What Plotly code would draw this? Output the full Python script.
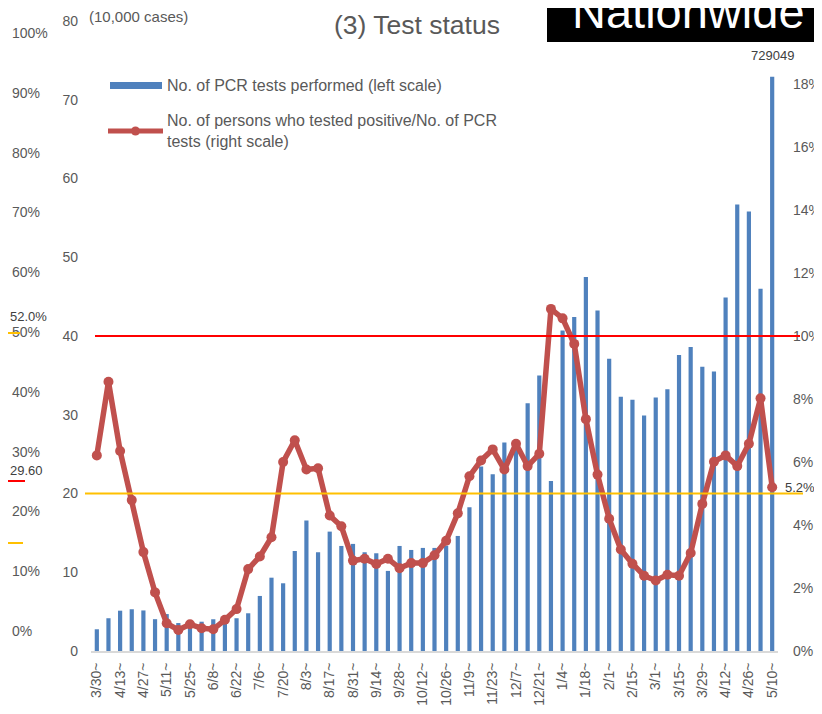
import plotly.graph_objects as go

# the page body has an 8px margin, so the figure is drawn 8px smaller on each axis
OFF = 8
W, H = 822 - OFF, 714 - 2 * OFF

weeks = ["3/30~", "4/6~", "4/13~", "4/20~", "4/27~", "5/4~", "5/11~", "5/18~", "5/25~", "6/1~",
         "6/8~", "6/15~", "6/22~", "6/29~", "7/6~", "7/13~", "7/20~", "7/27~", "8/3~", "8/10~",
         "8/17~", "8/24~", "8/31~", "9/7~", "9/14~", "9/21~", "9/28~", "10/5~", "10/12~", "10/19~",
         "10/26~", "11/2~", "11/9~", "11/16~", "11/23~", "11/30~", "12/7~", "12/14~", "12/21~", "12/28~",
         "1/4~", "1/11~", "1/18~", "1/25~", "2/1~", "2/8~", "2/15~", "2/22~", "3/1~", "3/8~",
         "3/15~", "3/22~", "3/29~", "4/5~", "4/12~", "4/19~", "4/26~", "5/3~", "5/10~"]

# PCR tests per week, in 10,000 cases (left scale)
pcr_tests = [2.76, 4.16, 5.12, 5.30, 5.15, 4.04, 4.69, 3.55, 3.72, 3.72,
             4.03, 4.10, 4.16, 4.79, 6.99, 9.31, 8.60, 12.70, 16.56, 12.54,
             15.16, 13.34, 13.60, 12.54, 12.41, 10.17, 13.34, 12.83, 13.09, 13.09,
             13.38, 14.61, 18.26, 23.42, 22.45, 26.47, 26.00, 31.47, 34.98, 21.60,
             40.70, 42.40, 47.48, 43.24, 37.10, 32.30, 31.90, 29.90, 32.19, 33.25,
             37.60, 38.60, 36.10, 35.50, 44.90, 56.70, 55.80, 46.00, 72.9049]

# positives / PCR tests, % (right scale)
positivity = [6.21, 8.55, 6.35, 4.79, 3.14, 1.86, 0.88, 0.67, 0.85, 0.72,
              0.69, 0.99, 1.33, 2.60, 3.00, 3.61, 6.00, 6.69, 5.76, 5.80,
              4.30, 3.96, 2.87, 2.93, 2.76, 2.93, 2.63, 2.79, 2.79, 3.04,
              3.50, 4.37, 5.55, 6.05, 6.40, 5.76, 6.58, 5.87, 6.26, 10.86,
              10.56, 9.75, 7.36, 5.60, 4.20, 3.22, 2.77, 2.39, 2.24, 2.42,
              2.39, 3.11, 4.67, 6.01, 6.21, 5.87, 6.58, 8.02, 5.20]
positivity = [v / 100 for v in positivity]

left_ticks = [0, 10, 20, 30, 40, 50, 60, 70, 80]
right_ticks = [0, 0.02, 0.04, 0.06, 0.08, 0.10, 0.12, 0.14, 0.16, 0.18]
far_left_ticks = [0, 0.1, 0.2, 0.3, 0.4, 0.5, 0.6, 0.7, 0.8, 0.9, 1.0]


def px(x):
    # screen pixel -> paper fraction
    return (x - OFF) / W


def py(y):
    return 1 - (y - OFF) / H


GRAY = "#595959"
DARK = "#404040"
FONT = "Liberation Sans"
BLUE = "#4F81BD"
RED = "#C0504D"

fig = go.Figure()
fig.add_trace(go.Bar(x=weeks, y=pcr_tests, marker_color=BLUE, marker_line_width=0,
                     name="No. of PCR tests performed (left scale)"))
fig.add_trace(go.Scatter(x=weeks, y=positivity, yaxis="y2", mode="lines+markers",
                         line=dict(color=RED, width=5.5), marker=dict(color=RED, size=10),
                         name="No. of persons who tested positive/No. of PCR tests (right scale)"))
# carrier for the stray percentage axis on the far left
fig.add_trace(go.Scatter(x=[weeks[0]], y=[0], yaxis="y3", mode="markers",
                         marker=dict(opacity=0), hoverinfo="skip", showlegend=False))

fig.update_layout(
    width=W, height=H,
    margin=dict(l=0, r=0, t=0, b=0),
    paper_bgcolor="white", plot_bgcolor="white",
    showlegend=False,
    bargap=0.64,
    font=dict(family=FONT, color=GRAY, size=14),
    xaxis=dict(domain=[px(91), px(778)], type="category", range=[-0.5, len(weeks) - 0.5],
               tickvals=weeks[::2], tickangle=-90, tickfont=dict(size=14), showline=True,
               linecolor="#D9D9D9", linewidth=2, showgrid=False, ticks="",
               ticklabelstandoff=4, automargin=False),
    yaxis=dict(domain=[py(651), py(21)], range=[0, 80], tickvals=left_ticks, showgrid=False,
               zeroline=False, showline=False, ticklabelstandoff=12, automargin=False),
    yaxis2=dict(overlaying="y", side="right", anchor="x", range=[0, 0.2],
                tickvals=right_ticks, tickformat=".0%", showgrid=False, zeroline=False,
                showline=False, ticklabelstandoff=14, automargin=False),
    # left-aligned labels of the neighbouring chart's right axis
    yaxis3=dict(overlaying="y", side="right", anchor="free", position=px(10),
                range=[-(651 - 631) / 598, (631 - 21) / 598], tickvals=far_left_ticks,
                tickformat=".0%", showgrid=False, zeroline=False, showline=False,
                ticklabelstandoff=1, automargin=False),
)

# reference lines
fig.add_shape(type="line", xref="paper", yref="y2", x0=px(95), x1=px(800), y0=0.10, y1=0.10,
              line=dict(color="#FF0000", width=2))
fig.add_shape(type="line", xref="paper", yref="y2", x0=px(85), x1=px(803), y0=0.05, y1=0.05,
              line=dict(color="#FFC000", width=2))

# leftover marks from the neighbouring chart
fig.add_shape(type="line", xref="paper", yref="paper", x0=px(0), x1=px(20), y0=py(333), y1=py(333),
              line=dict(color="#FFC000", width=2))
fig.add_shape(type="line", xref="paper", yref="paper", x0=px(0), x1=px(25), y0=py(481), y1=py(481),
              line=dict(color="#FF0000", width=2))
fig.add_shape(type="line", xref="paper", yref="paper", x0=px(0), x1=px(23), y0=py(543), y1=py(543),
              line=dict(color="#FFC000", width=2))


def label(x, y, text, size, color=GRAY, xanchor="center", **kw):
    fig.add_annotation(x=px(x), y=py(y), xref="paper", yref="paper", text=text,
                       xanchor=xanchor, yanchor="middle", showarrow=False,
                       font=dict(size=size, color=color), **kw)


label(8, 316, "52.0%", 13, DARK, xanchor="left")
label(8, 470, "29.60", 13, DARK, xanchor="left")

# titles
label(417, 25, "(3) Test status", 26.5)
label(87, 17, "(10,000 cases)", 15, xanchor="left")
fig.add_shape(type="rect", xref="paper", yref="paper", x0=px(547), x1=px(840),
              y0=py(42), y1=py(-10), fillcolor="black", line=dict(width=0))
label(688, 12, "Nationwide", 47, "white")

# data labels
fig.add_annotation(x=weeks[-1], y=pcr_tests[-1], text=f"{round(pcr_tests[-1] * 10000)}",
                   showarrow=False, yanchor="middle", yshift=21,
                   font=dict(size=13, color=DARK))
fig.add_annotation(x=weeks[-1], y=positivity[-1], yref="y2", text=f"{positivity[-1]:.1%}",
                   showarrow=False, xanchor="center", yanchor="middle", xshift=28, yshift=0,
                   font=dict(size=13, color=DARK))

# legend
fig.add_shape(type="rect", xref="paper", yref="paper", x0=px(110), x1=px(162),
              y0=py(89), y1=py(82), fillcolor=BLUE, line=dict(width=0))
label(165, 85, "No. of PCR tests performed (left scale)", 16, xanchor="left")
fig.add_shape(type="line", xref="paper", yref="paper", x0=px(108), x1=px(163),
              y0=py(131), y1=py(131), line=dict(color=RED, width=5))
fig.add_shape(type="circle", xref="paper", yref="paper", x0=px(131), x1=px(140),
              y0=py(135.5), y1=py(126.5), fillcolor=RED, line=dict(width=0))
label(165, 131, "No. of persons who tested positive/No. of PCR<br>tests (right scale)", 16,
      xanchor="left", align="left")

fig.write_html("out.html")
